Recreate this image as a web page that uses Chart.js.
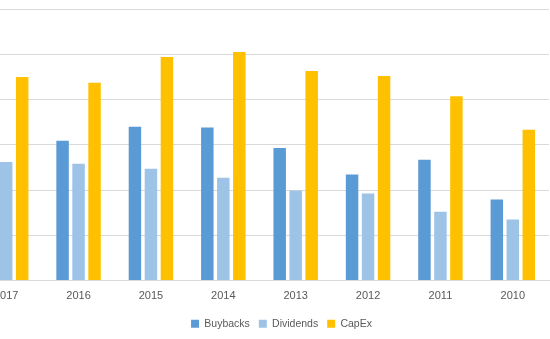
<!DOCTYPE html>
<html>
<head>
<meta charset="utf-8">
<script src="https://cdn.jsdelivr.net/npm/chart.js@4/dist/chart.umd.min.js"></script>
<style>
  html, body { margin: 0; padding: 0; background: #fff; overflow: hidden; }
  #wrap { position: absolute; left: -30px; top: 0; width: 623px; height: 339px; }
</style>
</head>
<body>
<div id="wrap"><canvas id="chart"></canvas></div>
<script>
// Spending by year (grid units, 1 per gridline)
const years = ['2017', '2016', '2015', '2014', '2013', '2012', '2011', '2010'];
const buybacks  = [3.20, 3.09, 3.40, 3.38, 2.93, 2.34, 2.67, 1.79];
const dividends = [2.62, 2.58, 2.47, 2.27, 1.99, 1.92, 1.52, 1.35];
const capex     = [4.50, 4.37, 4.94, 5.05, 4.63, 4.52, 4.07, 3.33];

const textColor = '#595959';
const gridColor = '#d9d9d9';

const ctx = document.getElementById('chart').getContext('2d');
new Chart(ctx, {
  type: 'bar',
  data: {
    labels: years,
    datasets: [
      { label: 'Buybacks', data: buybacks, backgroundColor: '#5b9bd5' },
      { label: 'Dividends', data: dividends, backgroundColor: '#9dc3e6' },
      { label: 'CapEx', data: capex, backgroundColor: '#ffc000' }
    ]
  },
  options: {
    responsive: true,
    maintainAspectRatio: false,
    animation: false,
    datasets: {
      bar: { categoryPercentage: 0.663, barPercentage: 0.78 }
    },
    layout: { padding: { top: 9, bottom: 0, left: 0, right: 0 } },
    plugins: {
      tooltip: { enabled: false },
      legend: {
        position: 'bottom',
        labels: {
          boxWidth: 8,
          boxHeight: 8,
          padding: 9,
          color: textColor,
          font: { family: 'Liberation Sans', size: 10.5 }
        }
      }
    },
    scales: {
      x: {
        grid: { display: false },
        border: { display: true, color: gridColor },
        ticks: {
          padding: 1,
          color: textColor,
          font: { family: 'Liberation Sans', size: 11 }
        },
        afterFit: (scale) => { scale.height = 29; }
      },
      y: {
        position: 'right',
        min: 0,
        max: 6,
        ticks: { display: false, stepSize: 1 },
        grid: { color: gridColor, drawTicks: false },
        border: { display: false },
        afterFit: (scale) => { scale.width = 44; }
      }
    }
  }
});
</script>
</body>
</html>
